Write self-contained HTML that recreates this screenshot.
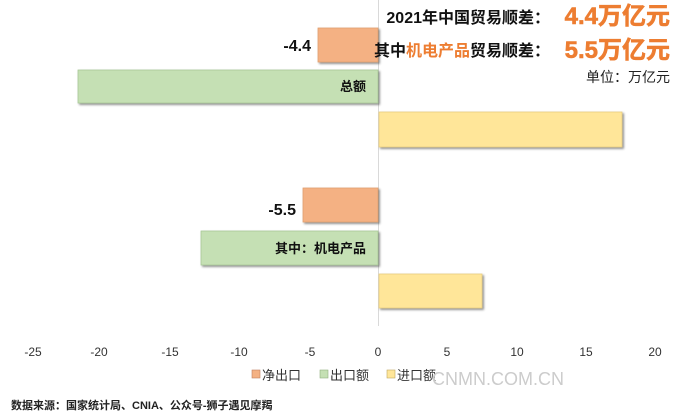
<!DOCTYPE html>
<html><head><meta charset="utf-8">
<style>
html,body{margin:0;padding:0;background:#fff;}
svg{display:block;font-family:"Liberation Sans","Noto Sans CJK SC",sans-serif;}
</style></head><body>
<svg width="679" height="419" viewBox="0 0 679 419" xmlns="http://www.w3.org/2000/svg">
<defs>
<filter id="sh" x="-5%" y="-20%" width="110%" height="150%">
<feDropShadow dx="1.5" dy="1.5" stdDeviation="1" flood-color="#000" flood-opacity="0.45"/>
</filter>
</defs>
<line x1="378.5" y1="0" x2="378.5" y2="326" stroke="#d9d9d9" stroke-width="1"/>
<g filter="url(#sh)" stroke-width="0.8">
<rect x="318" y="28" width="60" height="34" fill="#F4B183" stroke="#e0a070"/>
<rect x="78" y="70" width="300" height="33" fill="#C5E0B4" stroke="#a8c898"/>
<rect x="379" y="112" width="243" height="35" fill="#FFE699" stroke="#e8cc80"/>
<rect x="303" y="188" width="75" height="34" fill="#F4B183" stroke="#e0a070"/>
<rect x="201" y="231" width="177" height="34" fill="#C5E0B4" stroke="#a8c898"/>
<rect x="379" y="274" width="103" height="34" fill="#FFE699" stroke="#e8cc80"/>
</g>
<g font-weight="bold" fill="#111">
<text x="311" y="51" font-size="16" text-anchor="end">-4.4</text>
<text x="366" y="91" font-size="13" text-anchor="end">总额</text>
<text x="296" y="215" font-size="16" text-anchor="end">-5.5</text>
<text x="366" y="253" font-size="13" text-anchor="end">其中：机电产品</text>
</g>
<g font-size="16" font-weight="bold">
<text x="550" y="23" text-anchor="end" fill="#111">2021年中国贸易顺差：</text>
<text x="670" y="24" text-anchor="end" fill="#ED7D31" font-size="24" stroke="#ED7D31" stroke-width="0.6">4.4万亿元</text>
<text x="550" y="56" text-anchor="end"><tspan fill="#111">其中</tspan><tspan fill="#ED7D31">机电产品</tspan><tspan fill="#111">贸易顺差：</tspan></text>
<text x="670" y="58" text-anchor="end" fill="#ED7D31" font-size="24" stroke="#ED7D31" stroke-width="0.6">5.5万亿元</text>
</g>
<text x="670" y="82" font-size="14" text-anchor="end" fill="#222">单位：万亿元</text>
<g font-size="12" fill="#333" text-anchor="middle">
<text x="33" y="356">-25</text>
<text x="99" y="356">-20</text>
<text x="170" y="356">-15</text>
<text x="239" y="356">-10</text>
<text x="310" y="356">-5</text>
<text x="378" y="356">0</text>
<text x="447" y="356">5</text>
<text x="517" y="356">10</text>
<text x="586" y="356">15</text>
<text x="655" y="356">20</text>
</g>
<g font-size="13" fill="#333">
<rect x="252" y="370" width="8" height="8" fill="#F4B183" stroke="#c08060" stroke-width="0.6"/>
<text x="262" y="380">净出口</text>
<rect x="320" y="370" width="8" height="8" fill="#C5E0B4" stroke="#90b080" stroke-width="0.6"/>
<text x="330" y="380">出口额</text>
<rect x="387" y="370" width="8" height="8" fill="#FFE699" stroke="#c0a860" stroke-width="0.6"/>
<text x="397" y="380">进口额</text>
</g>
<text x="432" y="385" font-size="18" fill="#ccc" font-family="Liberation Sans,sans-serif">CNMN.COM.CN</text>
<text x="11" y="409" font-size="11" font-weight="bold" fill="#222">数据来源：国家统计局、CNIA、公众号-狮子遇见摩羯</text>
</svg>
</body></html>
